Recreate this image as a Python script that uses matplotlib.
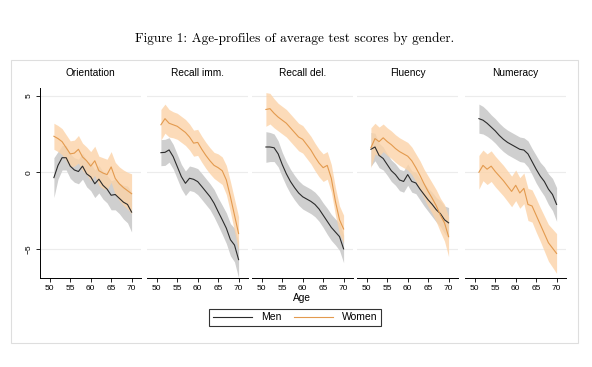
import numpy as np
import matplotlib
matplotlib.use("Agg")
from matplotlib import pyplot as plt
from matplotlib.patches import Rectangle

# ages covered by the profiles
ages = list(range(51, 71))

panel_titles = ["Orientation", "Recall imm.", "Recall del.", "Fluency", "Numeracy"]

# average scores, men / women, with CI half widths
orient_men = [-0.35, 0.45, 0.95, 0.95, 0.4, 0.15, 0.05, 0.4, -0.1, -0.3,
              -0.75, -0.45, -0.85, -1.1, -1.5, -1.45, -1.7, -1.95, -2.1, -2.6]
orient_men_ci = [1.3, 0.9, 0.8, 0.8, 0.8, 0.8, 0.8, 0.85, 0.85, 0.9,
                 0.9, 0.9, 0.9, 0.9, 0.95, 1.0, 1.0, 1.1, 1.2, 1.3]
orient_women = [2.35, 2.2, 2.0, 1.6, 1.2, 1.25, 1.5, 1.0, 0.75, 0.4,
                0.75, 0.1, -0.05, -0.15, 0.35, -0.4, -0.75, -1.0, -1.2, -1.4]
orient_women_ci = [0.85, 0.85, 0.85, 0.85, 0.85, 0.85, 0.9, 0.9, 0.9, 0.95,
                   0.95, 0.95, 1.0, 1.0, 1.0, 1.05, 1.1, 1.15, 1.2, 1.3]

recimm_men = [1.28, 1.3, 1.46, 1.02, 0.37, -0.28, -0.72, -0.39, -0.46, -0.61,
              -0.93, -1.26, -1.59, -2.02, -2.57, -3.1, -3.65, -4.4, -4.75, -5.7]
recimm_men_ci = [0.85, 0.85, 0.8, 0.8, 0.8, 0.8, 0.8, 0.8, 0.8, 0.85,
                 0.85, 0.85, 0.85, 0.9, 0.9, 0.95, 1.0, 1.05, 1.1, 1.2]
recimm_women = [3.1, 3.5, 3.2, 3.1, 3.0, 2.8, 2.6, 2.3, 1.9, 1.95,
                1.5, 1.1, 0.75, 0.45, 0.3, 0.1, -0.5, -1.6, -2.8, -4.0]
recimm_women_ci = [1.0, 0.95, 0.9, 0.85, 0.85, 0.85, 0.85, 0.85, 0.85, 0.85,
                   0.85, 0.85, 0.85, 0.85, 0.9, 0.9, 0.95, 1.0, 1.05, 1.1]

recdel_men = [1.65, 1.65, 1.6, 1.2, 0.5, -0.1, -0.6, -1.0, -1.35, -1.6,
              -1.75, -1.9, -2.1, -2.4, -2.8, -3.2, -3.6, -3.9, -4.2, -5.0]
recdel_men_ci = [1.0, 0.95, 0.9, 0.85, 0.8, 0.8, 0.8, 0.8, 0.8, 0.8,
                 0.8, 0.8, 0.8, 0.8, 0.8, 0.85, 0.85, 0.85, 0.9, 0.9]
recdel_women = [4.1, 4.15, 3.85, 3.6, 3.4, 3.2, 2.9, 2.6, 2.3, 2.15,
                1.8, 1.45, 1.0, 0.6, 0.3, 0.45, -0.4, -1.9, -3.1, -3.7]
recdel_women_ci = [1.1, 1.0, 0.95, 0.9, 0.9, 0.9, 0.9, 0.9, 0.9, 0.9,
                   0.9, 0.9, 0.9, 0.9, 0.9, 0.9, 0.9, 0.9, 0.9, 0.9]

fluency_men = [1.5, 1.65, 1.1, 0.9, 0.5, 0.1, -0.15, -0.5, -0.6, -0.15,
               -0.6, -0.7, -1.1, -1.45, -1.8, -2.1, -2.45, -2.7, -3.1, -3.3]
fluency_men_ci = [1.1, 0.9, 0.8, 0.75, 0.7, 0.7, 0.7, 0.7, 0.7, 0.7,
                  0.7, 0.7, 0.7, 0.75, 0.75, 0.8, 0.8, 0.85, 0.9, 1.0]
fluency_women = [1.6, 2.2, 2.0, 2.25, 2.0, 1.8, 1.55, 1.35, 1.2, 1.05,
                 0.75, 0.3, -0.2, -0.75, -1.25, -1.7, -2.2, -2.8, -3.3, -4.2]
fluency_women_ci = [1.3, 1.0, 0.95, 0.9, 0.9, 0.9, 0.9, 0.9, 0.9, 0.9,
                    0.9, 0.9, 0.95, 0.95, 1.0, 1.0, 1.05, 1.1, 1.2, 1.3]

numer_men = [3.5, 3.4, 3.2, 2.95, 2.7, 2.4, 2.15, 1.95, 1.8, 1.65,
             1.5, 1.45, 1.2, 0.7, 0.2, -0.25, -0.6, -1.1, -1.45, -2.1]
numer_men_ci = [0.95, 0.9, 0.85, 0.8, 0.8, 0.8, 0.8, 0.8, 0.8, 0.8,
                0.8, 0.8, 0.85, 0.85, 0.9, 0.9, 0.95, 1.0, 1.05, 1.1]
numer_women = [0.0, 0.45, 0.2, 0.4, 0.05, -0.25, -0.55, -0.9, -1.25, -0.85,
               -1.35, -1.05, -2.1, -2.2, -2.8, -3.4, -4.0, -4.6, -4.95, -5.3]
numer_women_ci = [1.1, 1.0, 1.0, 1.0, 1.0, 1.0, 1.0, 1.0, 1.0, 1.0,
                  1.0, 1.0, 1.05, 1.05, 1.1, 1.1, 1.15, 1.2, 1.25, 1.3]

men_series = [orient_men, recimm_men, recdel_men, fluency_men, numer_men]
men_cis = [orient_men_ci, recimm_men_ci, recdel_men_ci, fluency_men_ci, numer_men_ci]
women_series = [orient_women, recimm_women, recdel_women, fluency_women, numer_women]
women_cis = [orient_women_ci, recimm_women_ci, recdel_women_ci, fluency_women_ci, numer_women_ci]

men_col = "#2b2b2b"
women_col = "#e39a4e"
men_band = "#cfcfcf"
women_band = "#fcd3a8"

W, H = 592, 367
fig = plt.figure(figsize=(W / 100, H / 100), dpi=100)
fig.patch.set_facecolor("white")

# light frame round the graph region
fig.patches.append(Rectangle((11 / W, 1 - 343 / H), 567 / W, 283 / H,
                             transform=fig.transFigure, fill=False,
                             edgecolor="#dedede", lw=0.8))

fig.text(295 / W, 1 - 39 / H, "Figure 1: Age-profiles of average test scores by gender.",
         ha="center", va="center", fontsize=9.6, family="cmr10")

lefts = [40, 147, 252, 357, 465]
top_px, bot_px = 88, 278
sans = "Liberation Sans"

for i in range(5):
    ax = fig.add_axes([lefts[i] / W, 1 - bot_px / H, 101 / W, (bot_px - top_px) / H])
    ax.set_xlim(47.6, 72.3)
    ax.set_ylim(-6.9, 5.5)
    for g in (-5, 0, 5):
        ax.axhline(g, color="#ececec", lw=0.8, zorder=0)

    m = np.array(men_series[i])
    mc = np.array(men_cis[i])
    w = np.array(women_series[i])
    wc = np.array(women_cis[i])
    ax.fill_between(ages, m - mc, m + mc, color=men_band, lw=0, zorder=1)
    ax.fill_between(ages, w - wc, w + wc, color=women_band, alpha=0.8, lw=0, zorder=2)
    ax.plot(ages, m, color=men_col, lw=0.8, zorder=3, label="Men")
    ax.plot(ages, w, color=women_col, lw=0.8, zorder=3, label="Women")

    ax.set_title(panel_titles[i], fontsize=7.3, family=sans, pad=9)

    for s in ("top", "right"):
        ax.spines[s].set_visible(False)
    ax.spines["bottom"].set_linewidth(0.7)
    ax.set_xticks([50, 55, 60, 65, 70])
    ax.tick_params(axis="x", labelsize=6, length=3, width=0.6, pad=2)
    for lab in ax.get_xticklabels():
        lab.set_family(sans)
    if i == 0:
        ax.spines["left"].set_linewidth(0.7)
        ax.set_yticks([-5, 0, 5])
        ax.set_yticklabels(["\u22125", "0", "5"], rotation=90, va="center",
                           family=sans, fontsize=6)
        ax.tick_params(axis="y", length=3, width=0.6, pad=2)
    else:
        ax.spines["left"].set_visible(False)
        ax.set_yticks([])
    ax.set_facecolor("none")

handles = ax.get_legend_handles_labels()
fig.text(302 / W, 1 - 298 / H, "Age", ha="center", va="center", fontsize=7.3, family=sans)
leg = fig.legend(handles[0], handles[1], loc="center", ncol=2,
                 bbox_to_anchor=(295 / W, 1 - 317.5 / H),
                 prop={"family": sans, "size": 7.5}, frameon=True, fancybox=False,
                 handlelength=3.8, columnspacing=1.2, borderpad=0.35, handletextpad=0.8)
leg.get_frame().set_edgecolor("black")
leg.get_frame().set_linewidth(0.8)

fig.savefig("out.png", dpi=100)
